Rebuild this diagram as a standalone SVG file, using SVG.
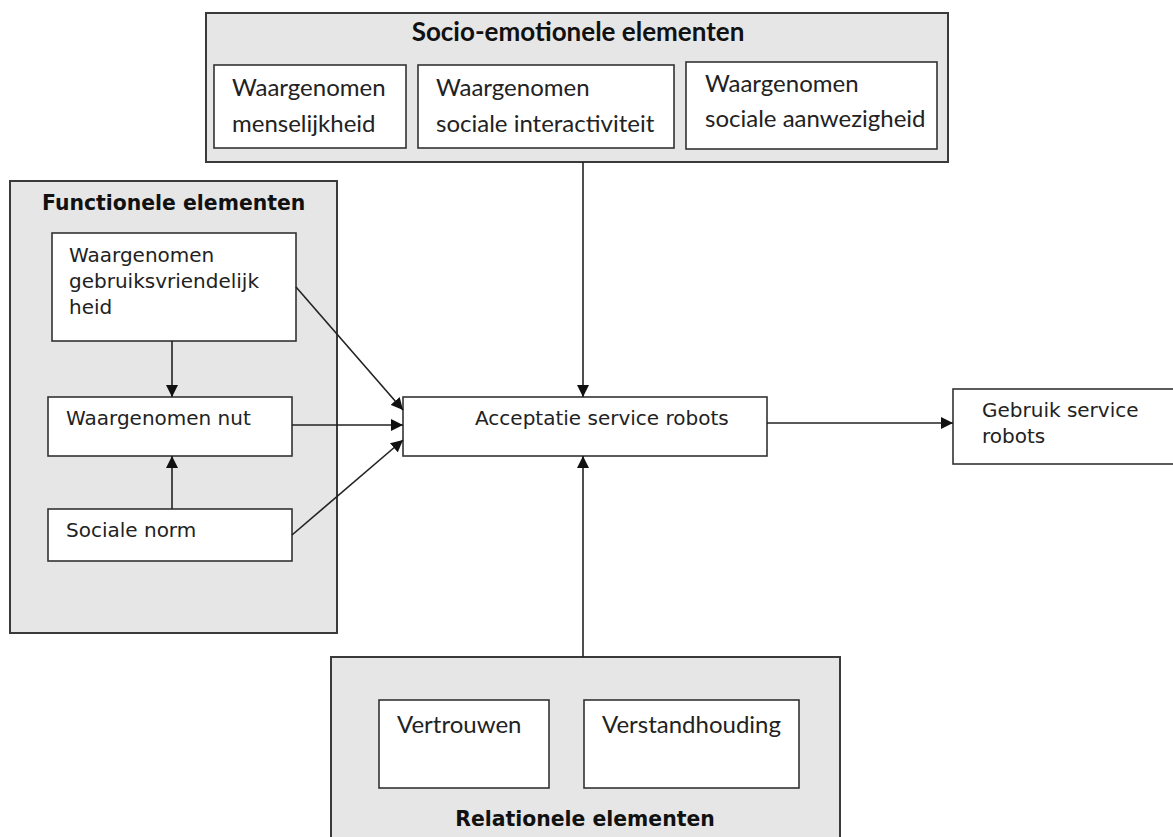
<svg xmlns="http://www.w3.org/2000/svg" width="1173" height="837" viewBox="0 0 1173 837">
<style>
.grp{fill:#e6e6e6;stroke:#3a3a3a;stroke-width:2}
.box{fill:#fff;stroke:#333;stroke-width:1.6}
.v{font-family:"DejaVu Sans",Verdana,sans-serif;font-size:20px;fill:#222}
.vb{font-family:"DejaVu Sans",Verdana,sans-serif;font-size:20.4px;font-weight:bold;fill:#111}
.c{font-family:Lato,"Liberation Sans",sans-serif;font-size:24px;fill:#222}
.cb{font-family:Lato,"Liberation Sans",sans-serif;font-size:26px;font-weight:bold;fill:#111}
.con{stroke:#222;stroke-width:1.6;fill:none;marker-end:url(#ah)}
</style>
<defs>
<marker id="ah" markerUnits="userSpaceOnUse" markerWidth="12" markerHeight="12" refX="12" refY="6" orient="auto">
<path d="M0,0 L12,6 L0,12 z" fill="#111"/>
</marker>
</defs>
<rect width="1173" height="837" fill="#fff"/>
<g id="socio">
<rect class="grp" x="206" y="13" width="742" height="149"/>
<text class="cb" x="578" y="41" text-anchor="middle">Socio-emotionele elementen</text>
</g>
<g id="menselijkheid">
<rect class="box" x="214" y="65" width="192" height="83"/>
<text class="c" x="232" y="96">Waargenomen</text>
<text class="c" x="232" y="132">menselijkheid</text>
</g>
<g id="interactiviteit">
<rect class="box" x="418" y="65" width="256" height="83"/>
<text class="c" x="436" y="96">Waargenomen</text>
<text class="c" x="436" y="132">sociale interactiviteit</text>
</g>
<g id="aanwezigheid">
<rect class="box" x="686" y="62" width="251" height="87"/>
<text class="c" x="705" y="92">Waargenomen</text>
<text class="c" x="705" y="127">sociale aanwezigheid</text>
</g>
<g id="functioneel">
<rect class="grp" x="10" y="181" width="327" height="452"/>
<text class="vb" x="42" y="210">Functionele elementen</text>
</g>
<g id="gebruiksvriendelijkheid">
<rect class="box" x="52" y="233" width="244" height="108"/>
<text class="v" x="69" y="262">Waargenomen</text>
<text class="v" x="69" y="288">gebruiksvriendelijk</text>
<text class="v" x="69" y="314">heid</text>
</g>
<g id="nut">
<rect class="box" x="48" y="397" width="244" height="59"/>
<text class="v" x="66" y="425">Waargenomen nut</text>
</g>
<g id="norm">
<rect class="box" x="48" y="509" width="244" height="52"/>
<text class="v" x="66" y="537">Sociale norm</text>
</g>
<g id="acceptatie">
<rect class="box" x="403" y="397" width="364" height="59"/>
<text class="v" x="475" y="425">Acceptatie service robots</text>
</g>
<g id="gebruik">
<rect class="box" x="953" y="389" width="240" height="75"/>
<text class="v" x="982" y="417">Gebruik service</text>
<text class="v" x="982" y="443">robots</text>
</g>
<g id="relationeel">
<rect class="grp" x="331" y="657" width="509" height="200"/>
<text class="vb" x="585" y="826" text-anchor="middle">Relationele elementen</text>
</g>
<g id="vertrouwen">
<rect class="box" x="379" y="700" width="170" height="88"/>
<text class="c" x="397" y="733">Vertrouwen</text>
</g>
<g id="verstandhouding">
<rect class="box" x="584" y="700" width="215" height="88"/>
<text class="c" x="602" y="733">Verstandhouding</text>
</g>
<g id="connectors">
<line class="con" x1="583" y1="162" x2="583" y2="397"/>
<line class="con" x1="583" y1="657" x2="583" y2="456"/>
<line class="con" x1="767" y1="423" x2="953" y2="423"/>
<line class="con" x1="296" y1="287" x2="403" y2="410"/>
<line class="con" x1="292" y1="425" x2="403" y2="425"/>
<line class="con" x1="292" y1="535" x2="403" y2="440"/>
<line class="con" x1="172" y1="341" x2="172" y2="397"/>
<line class="con" x1="172" y1="509" x2="172" y2="456"/>
</g>
</svg>
